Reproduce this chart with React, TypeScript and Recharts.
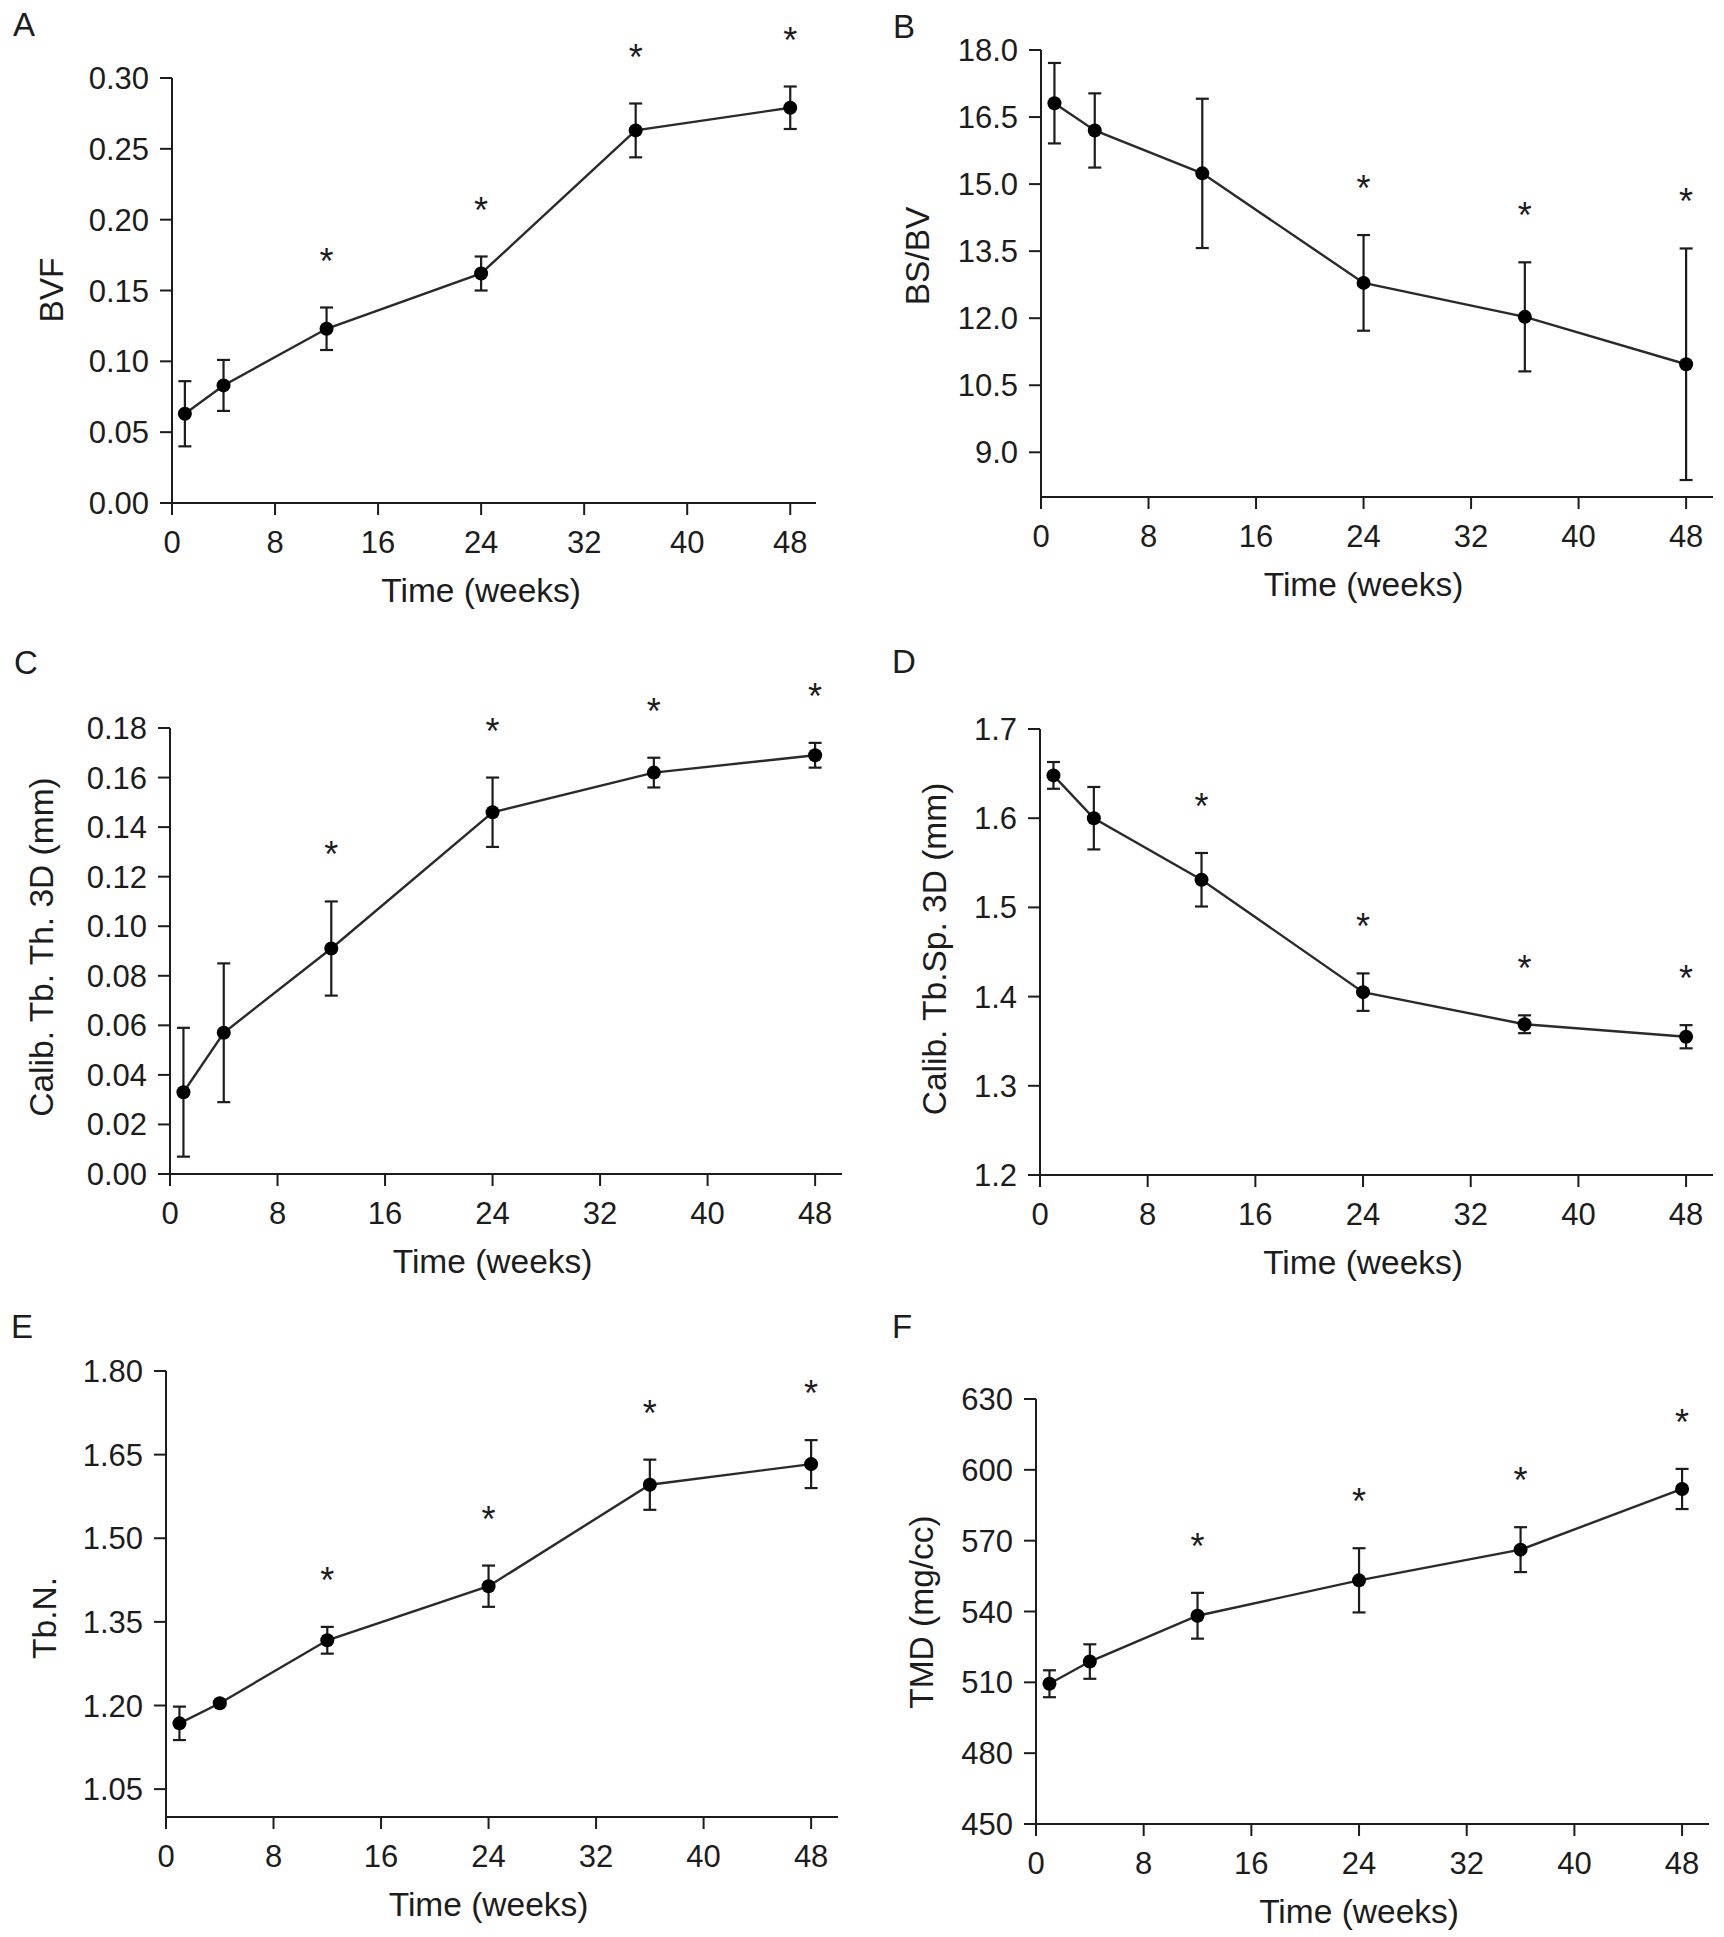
import React from "react";
import { ComposedChart, Line, XAxis, YAxis, ErrorBar, Label } from "recharts";

const FONT = '"Liberation Sans", Arial, Helvetica, sans-serif';
const INK = "#1c1c1c";

const weeks = [1, 4, 12, 24, 36, 48];
const timeTicks = [0, 8, 16, 24, 32, 40, 48];

// A: BVF
const bvfMean = [0.063, 0.083, 0.123, 0.162, 0.263, 0.279];
const bvfSd = [0.023, 0.018, 0.015, 0.012, 0.019, 0.015];
const bvfSig = [false, false, true, true, true, true];
const bvfTicks = [0, 0.05, 0.1, 0.15, 0.2, 0.25, 0.3];

// B: BS/BV
const bsbvMean = [16.81, 16.2, 15.24, 12.79, 12.03, 10.97];
const bsbvSd = [0.9, 0.83, 1.67, 1.07, 1.22, 2.59];
const bsbvSig = [false, false, false, true, true, true];
const bsbvTicks = [9, 10.5, 12, 13.5, 15, 16.5, 18];

// C: Calib. Tb. Th. 3D
const tbthMean = [0.033, 0.057, 0.091, 0.146, 0.162, 0.169];
const tbthSd = [0.026, 0.028, 0.019, 0.014, 0.006, 0.005];
const tbthSig = [false, false, true, true, true, true];
const tbthTicks = [0, 0.02, 0.04, 0.06, 0.08, 0.1, 0.12, 0.14, 0.16, 0.18];

// D: Calib. Tb.Sp. 3D
const tbspMean = [1.648, 1.6, 1.531, 1.405, 1.369, 1.355];
const tbspSd = [0.015, 0.035, 0.03, 0.021, 0.01, 0.013];
const tbspSig = [false, false, true, true, true, true];
const tbspTicks = [1.2, 1.3, 1.4, 1.5, 1.6, 1.7];

// E: Tb.N.
const tbnMean = [1.168, 1.204, 1.317, 1.414, 1.596, 1.633];
const tbnSd = [0.03, 0.004, 0.024, 0.037, 0.045, 0.043];
const tbnSig = [false, false, true, true, true, true];
const tbnTicks = [1.05, 1.2, 1.35, 1.5, 1.65, 1.8];

// F: TMD
const tmdMean = [509.4, 518.8, 538.2, 553.2, 566.2, 591.9];
const tmdSd = [5.7, 7.3, 9.7, 13.6, 9.5, 8.5];
const tmdSig = [false, false, true, true, true, true];
const tmdTicks = [450, 480, 510, 540, 570, 600, 630];

const PAD_L = 165;
const PAD_T = 90;
const PAD_R = 12;
const AXIS_H = 120;

type PanelDef = {
  letter: string;
  yLabel: string;
  mean: number[];
  sd: number[];
  sig: boolean[];
  ticks: number[];
  domain: [number, number];
  digits: number;
  left: number;
  right: number;
  top: number;
  bottom: number;
  letterX: number;
  letterY: number;
  yLabelX: number;
  yLabelY: number;
};

const panels: PanelDef[] = [
  {
    letter: "A", yLabel: "BVF", mean: bvfMean, sd: bvfSd, sig: bvfSig,
    ticks: bvfTicks, domain: [0, 0.3], digits: 2,
    left: 172, right: 816, top: 78, bottom: 503,
    letterX: 24, letterY: 24, yLabelX: 51, yLabelY: 290,
  },
  {
    letter: "B", yLabel: "BS/BV", mean: bsbvMean, sd: bsbvSd, sig: bsbvSig,
    ticks: bsbvTicks, domain: [8, 18], digits: 1,
    left: 1041, right: 1713, top: 50, bottom: 497,
    letterX: 904, letterY: 26, yLabelX: 917, yLabelY: 256,
  },
  {
    letter: "C", yLabel: "Calib. Tb. Th. 3D (mm)", mean: tbthMean, sd: tbthSd, sig: tbthSig,
    ticks: tbthTicks, domain: [0, 0.18], digits: 2,
    left: 170, right: 842, top: 728, bottom: 1174,
    letterX: 26, letterY: 662, yLabelX: 41, yLabelY: 947,
  },
  {
    letter: "D", yLabel: "Calib. Tb.Sp. 3D (mm)", mean: tbspMean, sd: tbspSd, sig: tbspSig,
    ticks: tbspTicks, domain: [1.2, 1.7], digits: 1,
    left: 1040, right: 1713, top: 729, bottom: 1175,
    letterX: 904, letterY: 661, yLabelX: 934, yLabelY: 949,
  },
  {
    letter: "E", yLabel: "Tb.N.", mean: tbnMean, sd: tbnSd, sig: tbnSig,
    ticks: tbnTicks, domain: [1.0, 1.8], digits: 2,
    left: 166, right: 838, top: 1371, bottom: 1817,
    letterX: 22, letterY: 1326, yLabelX: 44, yLabelY: 1618,
  },
  {
    letter: "F", yLabel: "TMD (mg/cc)", mean: tmdMean, sd: tmdSd, sig: tmdSig,
    ticks: tmdTicks, domain: [450, 630], digits: 0,
    left: 1036, right: 1709, top: 1399, bottom: 1824,
    letterX: 902, letterY: 1326, yLabelX: 921, yLabelY: 1612,
  },
];

function StarDot(props: any) {
  const { cx, cy, payload, index } = props;
  if (!payload?.sig || cx == null || cy == null) return <g key={`s${index}`} />;
  return (
    <text
      key={`s${index}`}
      x={cx}
      y={cy - 34}
      textAnchor="middle"
      fontSize={36}
      fontFamily={FONT}
      fill={INK}
    >
      *
    </text>
  );
}

function Panel({ p }: { p: PanelDef }) {
  const rows = weeks.map((w, i) => ({
    week: w,
    mean: p.mean[i],
    err: p.sd[i],
    top: p.mean[i] + p.sd[i],
    sig: p.sig[i],
  }));
  const boxLeft = p.left - PAD_L;
  const boxTop = p.top - PAD_T;
  const width = p.right - p.left + PAD_L + PAD_R;
  const height = p.bottom - p.top + PAD_T + AXIS_H;
  const tickStyle = { fontSize: 31, fill: INK, fontFamily: FONT };
  const axisStroke = { stroke: INK, strokeWidth: 2 };

  return (
    <div style={{ position: "absolute", left: boxLeft, top: boxTop }}>
      <ComposedChart
        width={width}
        height={height}
        data={rows}
        margin={{ top: PAD_T, right: PAD_R, bottom: 0, left: 0 }}
      >
        <XAxis
          dataKey="week"
          type="number"
          domain={[0, 50]}
          ticks={timeTicks}
          interval={0}
          height={AXIS_H}
          tickSize={12}
          tickMargin={16}
          axisLine={axisStroke}
          tickLine={axisStroke}
          tick={tickStyle}
        >
          <Label
            content={({ viewBox }: any) => (
              <text
                x={viewBox.x + (viewBox.width * 24) / 50}
                y={viewBox.y + 99}
                textAnchor="middle"
                fontSize={33.5}
                fontFamily={FONT}
                fill={INK}
              >
                Time (weeks)
              </text>
            )}
          />
        </XAxis>
        <YAxis
          type="number"
          domain={p.domain}
          ticks={p.ticks}
          interval={0}
          width={PAD_L}
          tickSize={12}
          tickMargin={11}
          axisLine={axisStroke}
          tickLine={axisStroke}
          tick={tickStyle}
          tickFormatter={(v: number) => v.toFixed(p.digits)}
        >
          <Label
            content={() => {
              const x = p.yLabelX - boxLeft;
              const y = p.yLabelY - boxTop;
              return (
                <text
                  x={x}
                  y={y}
                  transform={`rotate(-90, ${x}, ${y})`}
                  textAnchor="middle"
                  dominantBaseline="central"
                  fontSize={33.5}
                  fontFamily={FONT}
                  fill={INK}
                >
                  {p.yLabel}
                </text>
              );
            }}
          />
        </YAxis>
        <Line
          dataKey="mean"
          type="linear"
          stroke="#2a2a2a"
          strokeWidth={2.4}
          dot={{ r: 7, fill: "#000", stroke: "#000", strokeWidth: 0 }}
          activeDot={false}
          isAnimationActive={false}
        >
          <ErrorBar dataKey="err" direction="y" width={6.5} stroke={INK} strokeWidth={2.2} />
        </Line>
        <Line
          dataKey="top"
          stroke="none"
          dot={StarDot}
          activeDot={false}
          isAnimationActive={false}
          legendType="none"
        />
      </ComposedChart>
    </div>
  );
}

export default function App() {
  return (
    <div
      style={{
        position: "absolute",
        left: 0,
        top: 0,
        width: 1724,
        height: 1937,
        background: "#fff",
      }}
    >
      <svg
        width={1724}
        height={1937}
        style={{ position: "absolute", left: 0, top: 0 }}
      >
        {panels.map((p) => (
          <text
            key={p.letter}
            x={p.letterX}
            y={p.letterY + 12}
            textAnchor="middle"
            fontSize={33}
            fontFamily={FONT}
            fill={INK}
          >
            {p.letter}
          </text>
        ))}
      </svg>
      {panels.map((p) => (
        <Panel key={p.letter} p={p} />
      ))}
    </div>
  );
}
